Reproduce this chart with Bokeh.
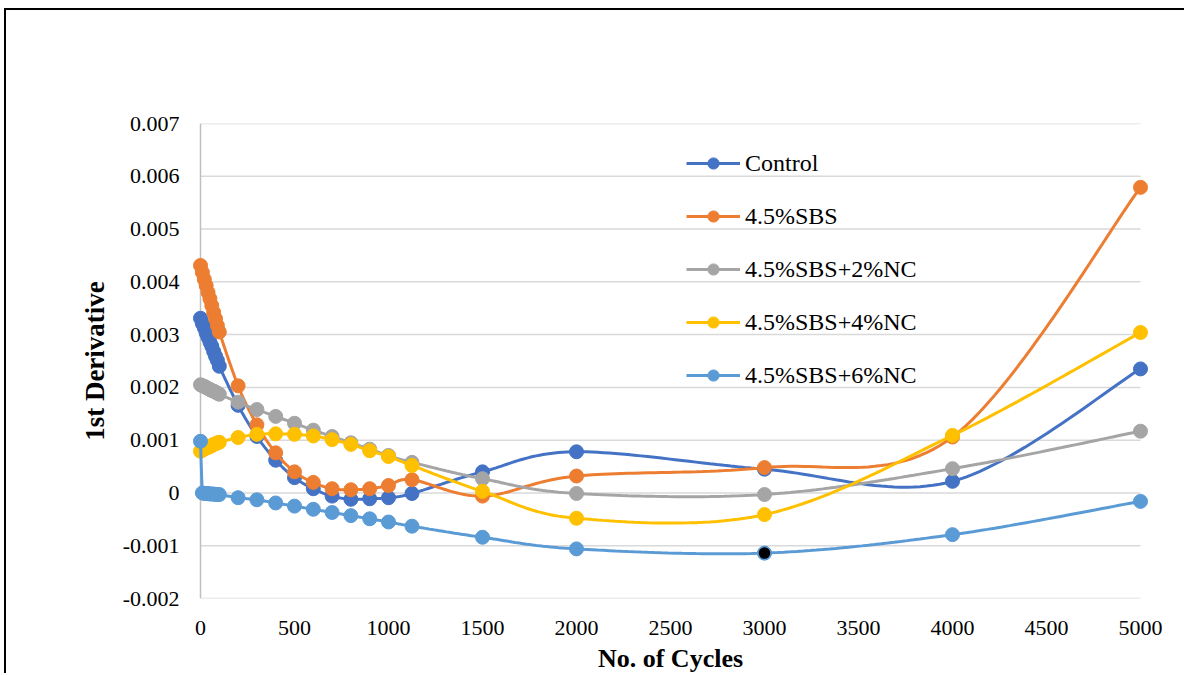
import numpy as np
from bokeh.plotting import figure
from bokeh.models import Range1d, FixedTicker, Legend, LegendItem, CustomJSTickFormatter
from bokeh.embed import file_html
from bokeh.resources import INLINE

# ---------------- data ----------------
cycles = [0, 10, 20, 30, 40, 50, 60, 70, 80, 90, 100,
          200, 300, 400, 500, 600, 700, 800, 900, 1000, 1125,
          1500, 2000, 3000, 4000, 5000]

control = [0.00331, 0.00321, 0.00313, 0.00303, 0.00295, 0.00286, 0.00278, 0.00268, 0.00259, 0.00251, 0.00240,
           0.00166, 0.00107, 0.00062, 0.00029, 0.00008, -0.00006, -0.00012, -0.00011, -0.00009, -0.00001,
           0.00040, 0.00078, 0.00045, 0.00022, 0.00235]
sbs = [0.00431, 0.00418, 0.00405, 0.00393, 0.00380, 0.00368, 0.00355, 0.00342, 0.00330, 0.00317, 0.00305,
       0.00203, 0.00129, 0.00076, 0.00040, 0.00020, 0.00008, 0.00006, 0.00008, 0.00014, 0.00025,
       -0.00006, 0.00032, 0.00048, 0.00106, 0.00579]
sbs_nc2 = [0.00205, 0.00203, 0.00202, 0.00200, 0.00198, 0.00196, 0.00194, 0.00193, 0.00191, 0.00189, 0.00187,
           0.00172, 0.00158, 0.00145, 0.00132, 0.00119, 0.00107, 0.00095, 0.00083, 0.00071, 0.00058,
           0.00027, -0.00001, -0.00003, 0.00046, 0.00117]
sbs_nc4 = [0.00079, 0.00081, 0.00083, 0.00085, 0.00086, 0.00088, 0.00090, 0.00092, 0.00093, 0.00095, 0.00096,
           0.00105, 0.00111, 0.00112, 0.00111, 0.00108, 0.00101, 0.00092, 0.00080, 0.00069, 0.00052,
           0.00003, -0.00048, -0.00041, 0.00109, 0.00304]
sbs_nc6 = [0.00098, 0.00000, -0.00001, -0.00001, -0.00001, -0.00002, -0.00002, -0.00002, -0.00003, -0.00003, -0.00003,
           -0.00009, -0.00013, -0.00019, -0.00025, -0.00031, -0.00037, -0.00043, -0.00049, -0.00055, -0.00063,
           -0.00084, -0.00106, -0.00114, -0.00079, -0.00016]

series_names = ["Control", "4.5%SBS", "4.5%SBS+2%NC", "4.5%SBS+4%NC", "4.5%SBS+6%NC"]
series_values = [control, sbs, sbs_nc2, sbs_nc4, sbs_nc6]
series_colors = ["#4472C4", "#ED7D31", "#A5A5A5", "#FFC000", "#5B9BD5"]

highlight_cycle = 3000  # black-filled point on the 6%NC series

x_ticks = [0, 500, 1000, 1500, 2000, 2500, 3000, 3500, 4000, 4500, 5000]
y_ticks = [-0.002, -0.001, 0.0, 0.001, 0.002, 0.003, 0.004, 0.005, 0.006, 0.007]
y_tick_labels = ["-0.002", "-0.001", "0", "0.001", "0.002", "0.003", "0.004", "0.005", "0.006", "0.007"]

x_title = "No. of Cycles"
y_title = "1st Derivative"

# ---------------- layout constants ----------------
FONT = "Liberation Serif"
x_min, x_max = x_ticks[0], x_ticks[-1]
y_min, y_max = y_ticks[0], y_ticks[-1]
plot_w_px = 940
pad_px = 10
x_pad = pad_px * (x_max - x_min) / plot_w_px


def smooth(xs, ys, n=30):
    """Excel-like smoothed line (Catmull-Rom Bezier through the points)."""
    xs = np.asarray(xs, float)
    ys = np.asarray(ys, float)
    N = len(xs)
    out_x, out_y = [], []
    t = np.linspace(0, 1, n)
    for i in range(N - 1):
        x0, y0 = xs[i], ys[i]
        x3, y3 = xs[i + 1], ys[i + 1]
        xm, ym = (xs[i - 1], ys[i - 1]) if i > 0 else (x0, y0)
        xp, yp = (xs[i + 2], ys[i + 2]) if i + 2 < N else (x3, y3)
        x1, y1 = x0 + (x3 - xm) / 6, y0 + (y3 - ym) / 6
        x2, y2 = x3 - (xp - x0) / 6, y3 - (yp - y0) / 6
        a, b, c, d = (1 - t) ** 3, 3 * (1 - t) ** 2 * t, 3 * (1 - t) * t ** 2, t ** 3
        bx = a * x0 + b * x1 + c * x2 + d * x3
        by = a * y0 + b * y1 + c * y2 + d * y3
        if i > 0:
            bx, by = bx[1:], by[1:]
        out_x.extend(bx.tolist())
        out_y.extend(by.tolist())
    return out_x, out_y


p = figure(width=1180, height=665,
           x_range=Range1d(x_min - x_pad, x_max + x_pad),
           y_range=Range1d(y_min, y_max),
           output_backend="svg", toolbar_location=None,
           min_border_left=184, min_border_right=36, min_border_top=113, min_border_bottom=77)
p.styles = {"margin-left": "4px", "margin-top": "8px",
            "border-top": "2px solid #000000", "border-left": "2px solid #000000"}
p.outline_line_color = None
p.background_fill_color = "white"
p.border_fill_color = "white"
p.xgrid.visible = False
p.ygrid.visible = False

# horizontal gridlines spanning the data extent, and the vertical axis line at x = 0
p.segment(x0=[x_min] * len(y_ticks), y0=y_ticks, x1=[x_max] * len(y_ticks), y1=y_ticks,
          line_color="#D9D9D9", line_width=1.5)
p.segment(x0=[x_min], y0=[y_min], x1=[x_min], y1=[y_max], line_color="#BFBFBF", line_width=1.5)

# axes
p.yaxis.ticker = FixedTicker(ticks=y_ticks)
p.yaxis.formatter = CustomJSTickFormatter(args=dict(yt=y_ticks, yl=y_tick_labels), code="""
    for (let i = 0; i < yt.length; i++) { if (Math.abs(yt[i] - tick) < 1e-9) return yl[i]; }
    return String(tick);
""")
p.yaxis.axis_line_color = None
p.yaxis.major_tick_line_color = None
p.yaxis.minor_tick_line_color = None
p.yaxis.major_tick_out = 0
p.yaxis.major_tick_in = 0
p.yaxis.major_label_standoff = 11
p.yaxis.major_label_text_font = FONT
p.yaxis.major_label_text_font_size = "22px"
p.yaxis.major_label_text_color = "#000000"
p.yaxis.axis_label = y_title
p.yaxis.axis_label_text_font = FONT
p.yaxis.axis_label_text_font_size = "27px"
p.yaxis.axis_label_text_font_style = "bold"
p.yaxis.axis_label_text_color = "#000000"
p.yaxis.axis_label_standoff = 10

p.xaxis.ticker = FixedTicker(ticks=x_ticks)
p.xaxis.axis_line_color = None
p.xaxis.major_tick_line_color = None
p.xaxis.minor_tick_line_color = None
p.xaxis.major_tick_out = 0
p.xaxis.major_tick_in = 0
p.xaxis.major_label_standoff = 22
p.xaxis.major_label_text_font = FONT
p.xaxis.major_label_text_font_size = "22px"
p.xaxis.major_label_text_color = "#000000"
p.xaxis.axis_label = x_title
p.xaxis.axis_label_text_font = FONT
p.xaxis.axis_label_text_font_size = "26px"
p.xaxis.axis_label_text_font_style = "bold"
p.xaxis.axis_label_text_color = "#000000"
p.xaxis.axis_label_standoff = 6

# series
items = []
for name, vals, col in zip(series_names, series_values, series_colors):
    sx, sy = smooth(cycles, vals)
    lr = p.line(sx, sy, line_color=col, line_width=3)
    sr = p.scatter(cycles, vals, size=14, fill_color=col, line_color=col, line_width=1)
    items.append(LegendItem(label=name, renderers=[lr, sr]))

hi = cycles.index(highlight_cycle)
p.scatter([cycles[hi]], [sbs_nc6[hi]], size=13, fill_color="#000000", line_color=series_colors[4], line_width=1.5)

legend = Legend(items=items, location=(496, 209),
                label_text_font=FONT, label_text_font_size="24px", label_text_color="#000000",
                glyph_width=54, glyph_height=28, label_height=28, spacing=25,
                padding=0, margin=0, label_standoff=5,
                border_line_color=None, background_fill_alpha=0)
p.add_layout(legend)

open("out.html", "w").write(file_html(p, INLINE))
